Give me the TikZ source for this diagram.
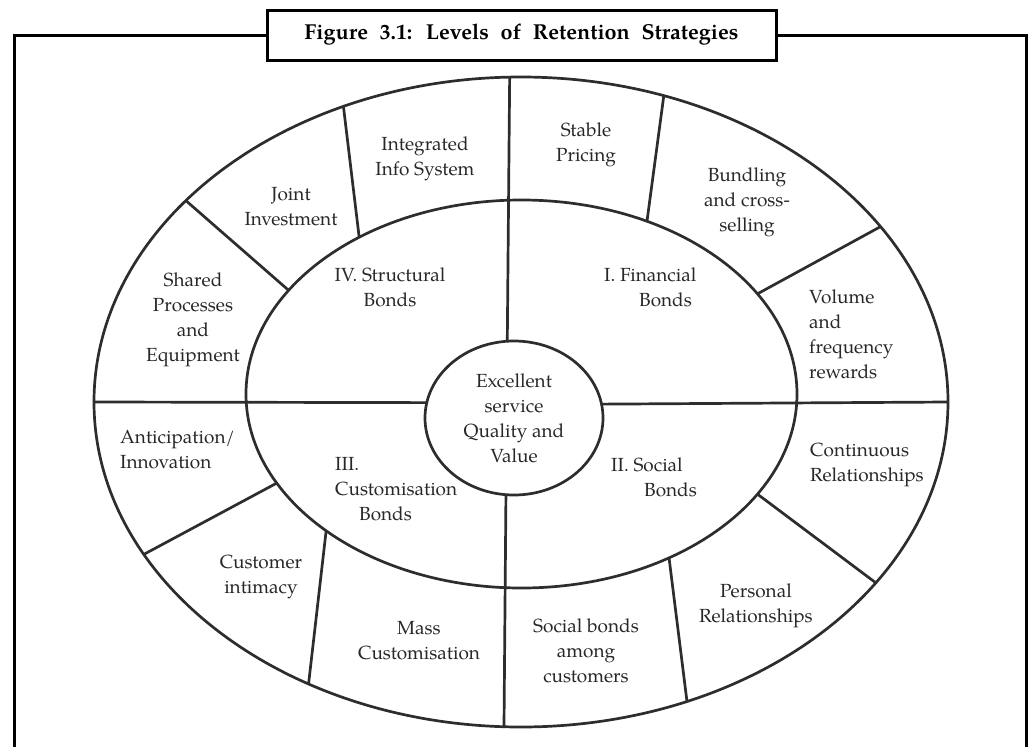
\documentclass[tikz,border=0pt]{standalone}
\usepackage{fontspec}
\setmainfont{texgyrepagella}[Extension=.otf, UprightFont=*-regular, BoldFont=*-bold]
\usetikzlibrary{shapes.geometric}
\definecolor{lc}{RGB}{45,45,45}
\definecolor{tc}{RGB}{40,40,40}
\begin{document}
\begin{tikzpicture}[x=1pt,y=-1pt,
  ln/.style={line width=2.7pt, draw=lc},
  ring/.style={ellipse, ln, inner sep=0pt, outer sep=0pt},
  framel/.style={line width=3pt, draw=black},
  lbl/.style={font=\fontsize{19}{25}\selectfont, text=tc, align=center, inner sep=0pt},
  lbll/.style={lbl, align=left}]
\useasboundingbox (0,0) rectangle (1034,747);
% frame and title
\node[framel, draw, minimum width=509pt, minimum height=50pt, inner sep=0pt,
      font=\bfseries\fontsize{21.6}{24}\selectfont] (title) at (521.5,35)
      {\spaceskip=11.8pt\relax Figure 3.1: Levels of Retention Strategies};
\draw[framel] (title.west) -- (14,35) -- (14,747);
\draw[framel] (title.east) -- (1026,35) -- (1026,747);
% rings
\node[ring, minimum width=854pt, minimum height=650pt] (outer) at (521,402) {};
\node[ring, minimum width=551pt, minimum height=388pt] (inner) at (521.5,394) {};
\node[ring, minimum width=178pt, minimum height=154pt, lbl] (core) at (514,418)
      {Excellent\\service\\Quality and\\Value};
% cross lines
\draw[ln] (outer.west) -- (core.170.2);
\draw[ln] (core.9.8) -- (outer.east);
\draw[ln] (outer.92.5) -- (core.95.2);
\draw[ln] (core.264.8) -- (outer.267.5);
% spokes in the outer ring
\draw[ln] (outer.149.8) -- (inner.156.9);
\draw[ln] (outer.121.2) -- (inner.136.0);
\draw[ln] (outer.65.1) -- (inner.54.3);
\draw[ln] (outer.26.9) -- (inner.23.2);
\draw[ln] (inner.-23.7) -- (outer.-27.3);
\draw[ln] (inner.-48.4) -- (outer.-61.8);
\draw[ln] (inner.215.7) -- (outer.233.9);
\draw[ln] (inner.200.7) -- (outer.202.9);
% labels
\node[lbl] (t-int) at (425,159) {Integrated\\Info System};
\node[lbl] (t-joint) at (291,207) {Joint\\Investment};
\node[lbl] (t-shared) at (193,320) {Shared\\Processes\\and\\Equipment};
\node[lbl] (t-iv) at (390,287) {IV. Structural\\Bonds};
\node[lbl] (t-stable) at (586,145) {Stable\\Pricing};
\node[lbl] (t-bund) at (747,202) {Bundling\\and cross-\\selling};
\node[lbll, anchor=west] (t-i) at (604,287) {I. Financial\\\hspace*{35pt}Bonds};
\node[lbll, anchor=west] (t-vol) at (809,334) {Volume\\and\\frequency\\rewards};
\node[lbll, anchor=west] (t-cont) at (810,465) {Continuous\\Relationships};
\node[lbll, anchor=west] (t-ii) at (611,477) {II. Social\\\hspace*{33pt}Bonds};
\node[lbl] (t-pers) at (756,606) {Personal\\Relationships};
\node[lbl] (t-soc) at (586,651) {Social bonds\\among\\customers};
\node[lbl] (t-mass) at (419,641) {Mass\\Customisation};
\node[lbll, anchor=west] (t-iii) at (335,489) {III.\\Customisation\\\hspace*{24pt}Bonds};
\node[lbl] (t-cust) at (261,577) {Customer\\intimacy};
\node[lbll, anchor=west] (t-ant) at (120,450) {Anticipation/\\Innovation};
\end{tikzpicture}
\end{document}
